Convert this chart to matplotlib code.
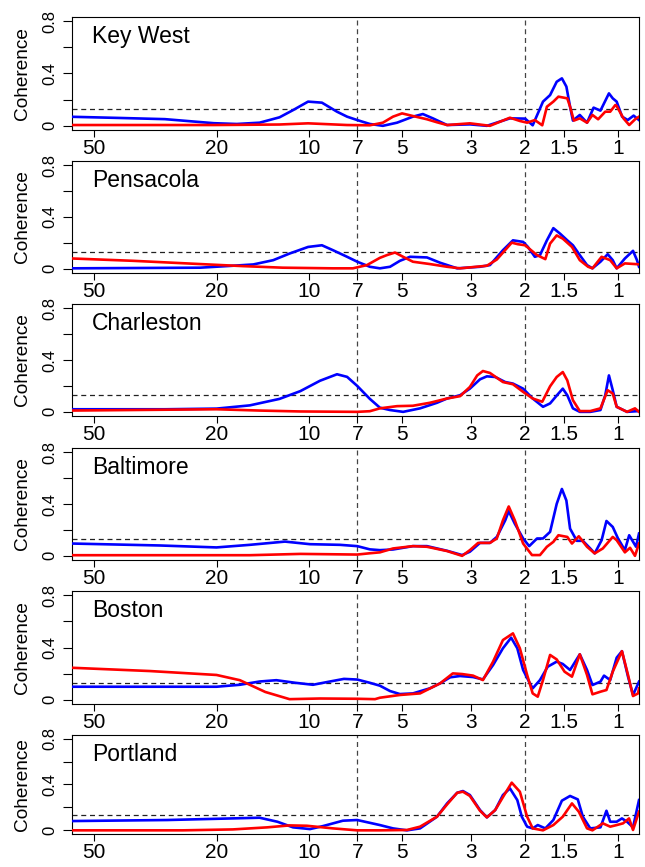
"""
Coherence vs period, six tide-gauge stations.
"""

import matplotlib
matplotlib.use('Agg')
import matplotlib.pyplot as plt

stations = ['Key West', 'Pensacola', 'Charleston', 'Baltimore', 'Boston', 'Portland']

# period (years) / coherence
kw_blue_p = [58.8, 41.1, 29.4, 20.4, 17.2, 14.5, 12.5, 11.3, 10.1, 9.11,
             8.14, 7.55, 7.0, 6.37, 5.78, 5.2, 4.62, 4.29, 3.98, 3.58,
             3.02, 2.66, 2.24, 2.0, 1.89, 1.75, 1.66, 1.58, 1.52, 1.47,
             1.43, 1.40, 1.33, 1.26, 1.20, 1.14, 1.07, 1.04, 1.01, 0.97,
             0.93, 0.89, 0.855]
kw_blue_c = [0.069, 0.06, 0.051, 0.02, 0.014, 0.024, 0.065, 0.12, 0.185, 0.177,
             0.108, 0.07, 0.044, 0.014, 0.0, 0.024, 0.07, 0.09, 0.057, 0.006,
             0.011, 0.0, 0.057, 0.055, 0.004, 0.185, 0.235, 0.337, 0.363, 0.30,
             0.146, 0.04, 0.083, 0.024, 0.139, 0.116, 0.248, 0.21, 0.185, 0.07,
             0.044, 0.078, 0.044]
kw_red_p = [58.8, 20.4, 12.5, 10.1, 7.55, 6.37, 5.78, 5.36, 5.01, 4.62,
            4.16, 3.86, 3.58, 3.02, 2.60, 2.24, 2.08, 1.97, 1.86, 1.76,
            1.70, 1.62, 1.56, 1.46, 1.43, 1.39, 1.33, 1.26, 1.21, 1.16,
            1.10, 1.06, 1.02, 1.01, 0.96, 0.92, 0.88, 0.855]
kw_red_c = [0.006, 0.006, 0.01, 0.019, 0.006, 0.004, 0.024, 0.07, 0.095, 0.075,
            0.05, 0.027, 0.006, 0.019, 0.0, 0.062, 0.037, 0.024, 0.044, 0.004,
            0.146, 0.185, 0.223, 0.21, 0.146, 0.04, 0.057, 0.024, 0.083, 0.05,
            0.108, 0.108, 0.159, 0.151, 0.057, 0.006, 0.05, 0.07]

pe_blue_p = [58.8, 22.6, 17.7, 15.2, 13.1, 11.6, 10.1, 9.11, 8.39, 7.55,
             7.0, 6.37, 5.91, 5.48, 5.09, 4.72, 4.16, 3.77, 3.32, 2.80,
             2.60, 2.36, 2.19, 2.03, 1.96, 1.86, 1.79, 1.70, 1.62, 1.54,
             1.46, 1.40, 1.33, 1.26, 1.21, 1.14, 1.08, 1.04, 1.01, 0.95,
             0.894, 0.868, 0.855]
pe_blue_c = [0.004, 0.009, 0.024, 0.034, 0.067, 0.118, 0.169, 0.182, 0.144, 0.093,
             0.055, 0.016, 0.004, 0.016, 0.062, 0.093, 0.088, 0.047, 0.004, 0.016,
             0.029, 0.144, 0.22, 0.208, 0.17, 0.093, 0.106, 0.22, 0.314, 0.271,
             0.22, 0.182, 0.106, 0.029, 0.004, 0.055, 0.113, 0.067, 0.004, 0.08,
             0.139, 0.067, 0.016]
pe_red_p = [58.8, 37.3, 22.6, 16.4, 12.2, 8.39, 7.23, 6.51, 5.91, 5.61,
            5.28, 4.97, 4.62, 4.07, 3.58, 3.25, 2.66, 2.47, 2.21, 2.11,
            2.0, 1.83, 1.72, 1.66, 1.58, 1.51, 1.41, 1.33, 1.25, 1.21,
            1.13, 1.06, 1.01, 0.95, 0.855]
pe_red_c = [0.08, 0.062, 0.037, 0.021, 0.009, 0.004, 0.004, 0.029, 0.085, 0.106,
            0.126, 0.093, 0.055, 0.037, 0.016, 0.004, 0.024, 0.072, 0.202, 0.19,
            0.182, 0.106, 0.075, 0.195, 0.258, 0.233, 0.169, 0.067, 0.016, 0.004,
            0.093, 0.067, 0.004, 0.042, 0.035]

ch_blue_p = [58.8, 29.4, 20.0, 15.6, 12.5, 10.7, 9.24, 8.14, 7.55, 7.0,
             6.37, 5.91, 5.48, 4.97, 4.38, 3.86, 3.58, 3.25, 3.02, 2.80,
             2.66, 2.50, 2.32, 2.19, 2.03, 1.89, 1.75, 1.66, 1.56, 1.51,
             1.46, 1.40, 1.33, 1.23, 1.14, 1.10, 1.07, 1.04, 1.01, 0.935,
             0.855]
ch_blue_c = [0.02, 0.02, 0.025, 0.05, 0.1, 0.16, 0.24, 0.29, 0.27, 0.2,
             0.1, 0.032, 0.014, 0.0, 0.027, 0.07, 0.103, 0.128, 0.179, 0.251,
             0.274, 0.269, 0.23, 0.218, 0.179, 0.103, 0.039, 0.065, 0.141, 0.179,
             0.128, 0.027, 0.0, 0.0, 0.014, 0.128, 0.281, 0.167, 0.039, 0.0,
             0.006]
ch_red_p = [58.8, 20.0, 14.5, 10.7, 7.0, 6.37, 5.91, 5.20, 4.62, 4.07,
            3.58, 3.25, 3.02, 2.86, 2.74, 2.60, 2.36, 2.19, 2.03, 1.89,
            1.76, 1.66, 1.58, 1.51, 1.46, 1.40, 1.33, 1.23, 1.14, 1.08,
            1.04, 1.01, 0.935, 0.881, 0.855]
ch_red_c = [0.01, 0.02, 0.01, 0.003, 0.0, 0.005, 0.027, 0.044, 0.047, 0.07,
            0.103, 0.121, 0.192, 0.281, 0.315, 0.3, 0.23, 0.213, 0.154, 0.103,
            0.078, 0.197, 0.269, 0.307, 0.243, 0.09, 0.006, 0.006, 0.027, 0.167,
            0.141, 0.039, 0.0, 0.027, 0.0]

ba_blue_p = [58.8, 30.5, 20.0, 15.6, 12.0, 9.96, 7.96, 7.0, 6.37, 5.91,
             5.36, 4.62, 4.16, 3.58, 3.20, 3.02, 2.80, 2.60, 2.47, 2.32,
             2.26, 2.16, 2.03, 1.94, 1.83, 1.75, 1.66, 1.58, 1.52, 1.47,
             1.43, 1.36, 1.30, 1.23, 1.19, 1.13, 1.09, 1.04, 1.0, 0.95,
             0.92, 0.874, 0.855]
ba_blue_c = [0.095, 0.08, 0.065, 0.085, 0.11, 0.09, 0.085, 0.075, 0.05, 0.044,
             0.049, 0.075, 0.075, 0.039, 0.006, 0.032, 0.1, 0.1, 0.146, 0.274,
             0.345, 0.248, 0.134, 0.075, 0.134, 0.134, 0.185, 0.401, 0.516, 0.427,
             0.21, 0.116, 0.116, 0.057, 0.019, 0.121, 0.269, 0.223, 0.134, 0.044,
             0.159, 0.07, 0.172]
ba_red_p = [58.8, 15.6, 10.7, 7.0, 6.37, 5.91, 5.36, 4.62, 4.16, 3.58,
            3.20, 3.02, 2.84, 2.60, 2.47, 2.36, 2.26, 2.16, 2.03, 1.90,
            1.79, 1.70, 1.62, 1.56, 1.46, 1.41, 1.34, 1.26, 1.19, 1.12,
            1.04, 1.01, 0.95, 0.914, 0.881, 0.855]
ba_red_c = [0.005, 0.005, 0.015, 0.01, 0.02, 0.027, 0.057, 0.075, 0.07, 0.037,
            0.0, 0.044, 0.1, 0.1, 0.134, 0.274, 0.381, 0.274, 0.095, 0.006,
            0.006, 0.07, 0.108, 0.159, 0.146, 0.095, 0.151, 0.07, 0.019, 0.057,
            0.146, 0.121, 0.027, 0.062, 0.0, 0.095]

bo_blue_p = [58.8, 20.0, 16.8, 14.5, 12.8, 11.1, 9.74, 8.58, 7.73, 7.0,
             6.37, 5.91, 5.48, 5.09, 4.62, 4.07, 3.77, 3.50, 3.25, 2.95,
             2.74, 2.54, 2.36, 2.22, 2.12, 2.03, 1.93, 1.89, 1.79, 1.69,
             1.58, 1.51, 1.43, 1.33, 1.26, 1.21, 1.14, 1.11, 1.06, 1.01,
             0.971, 0.928, 0.894, 0.855]
bo_blue_c = [0.1, 0.1, 0.115, 0.14, 0.15, 0.13, 0.115, 0.14, 0.16, 0.155,
             0.13, 0.108, 0.067, 0.044, 0.049, 0.088, 0.126, 0.172, 0.182, 0.174,
             0.156, 0.266, 0.394, 0.475, 0.394, 0.228, 0.126, 0.088, 0.151, 0.253,
             0.292, 0.274, 0.228, 0.348, 0.228, 0.113, 0.139, 0.185, 0.151, 0.322,
             0.372, 0.177, 0.037, 0.139]
bo_red_p = [58.8, 32.9, 20.0, 16.8, 13.9, 11.6, 9.24, 7.0, 6.13, 5.91,
            5.09, 4.38, 3.77, 3.43, 3.20, 2.95, 2.74, 2.54, 2.36, 2.19,
            2.08, 1.97, 1.89, 1.82, 1.75, 1.66, 1.58, 1.49, 1.41, 1.33,
            1.26, 1.21, 1.14, 1.09, 1.04, 0.971, 0.928, 0.894, 0.861, 0.855]
bo_red_c = [0.245, 0.22, 0.19, 0.15, 0.06, 0.005, 0.01, 0.008, 0.005, 0.016,
            0.037, 0.049, 0.126, 0.202, 0.197, 0.185, 0.151, 0.292, 0.457, 0.508,
            0.394, 0.19, 0.049, 0.024, 0.151, 0.343, 0.309, 0.215, 0.177, 0.348,
            0.19, 0.042, 0.062, 0.075, 0.215, 0.372, 0.19, 0.029, 0.049, 0.088]

po_blue_p = [58.8, 28.9, 14.5, 12.7, 11.3, 9.96, 9.04, 7.79, 7.0, 5.91,
             5.36, 4.83, 4.38, 3.86, 3.58, 3.32, 3.18, 3.02, 2.80, 2.66,
             2.50, 2.36, 2.24, 2.12, 2.05, 1.97, 1.89, 1.82, 1.72, 1.62,
             1.52, 1.43, 1.35, 1.30, 1.23, 1.14, 1.09, 1.06, 1.01, 0.971,
             0.935, 0.894, 0.855]
po_blue_c = [0.081, 0.09, 0.11, 0.075, 0.026, 0.011, 0.037, 0.084, 0.09, 0.046,
             0.017, 0.0, 0.017, 0.119, 0.235, 0.328, 0.343, 0.308, 0.177, 0.113,
             0.177, 0.308, 0.366, 0.264, 0.119, 0.032, 0.017, 0.046, 0.017, 0.09,
             0.259, 0.3, 0.27, 0.119, 0.017, 0.026, 0.171, 0.075, 0.075, 0.104,
             0.075, 0.026, 0.264]
po_red_p = [58.8, 25.7, 17.7, 13.7, 11.6, 10.2, 8.39, 7.0, 5.91, 4.83,
            4.38, 3.86, 3.58, 3.32, 3.18, 3.02, 2.80, 2.66, 2.50, 2.32,
            2.21, 2.08, 1.97, 1.89, 1.75, 1.62, 1.51, 1.41, 1.34, 1.26,
            1.21, 1.12, 1.06, 1.01, 0.963, 0.921, 0.894, 0.855]
po_red_c = [0.0, 0.0, 0.008, 0.026, 0.043, 0.04, 0.017, 0.0, 0.0, 0.003,
            0.032, 0.119, 0.226, 0.328, 0.337, 0.3, 0.171, 0.113, 0.177, 0.323,
            0.416, 0.337, 0.119, 0.017, 0.0, 0.046, 0.119, 0.235, 0.163, 0.017,
            0.0, 0.061, 0.032, 0.046, 0.061, 0.104, 0.003, 0.163]

period_ticks = [50, 20, 10, 7, 5, 3, 2, 1.5, 1]
period_labels = ['50', '20', '10', '7', '5', '3', '2', '1.5', '1']
coh_ticks = [0, 0.2, 0.4, 0.6, 0.8]
coh_labels = ['0', '', '0.4', '', '0.8']
signif_level = 0.132
marked_periods = [7, 2]


def run():

    plt.rcParams['font.family'] = ['Liberation Sans', 'DejaVu Sans']

    W, H = 645.0, 867.0
    fig = plt.figure(figsize=(W / 100, H / 100), dpi=100)

    # panel boxes in pixels (the last one is shorter in the original)
    left, right = 72, 639
    tops = [17, 161, 304, 448, 591, 735]
    bottoms = [130, 273, 416, 560, 704, 834]

    data = [(kw_blue_p, kw_blue_c, kw_red_p, kw_red_c),
            (pe_blue_p, pe_blue_c, pe_red_p, pe_red_c),
            (ch_blue_p, ch_blue_c, ch_red_p, ch_red_c),
            (ba_blue_p, ba_blue_c, ba_red_p, ba_red_c),
            (bo_blue_p, bo_blue_c, bo_red_p, bo_red_c),
            (po_blue_p, po_blue_c, po_red_p, po_red_c)]

    for i, name in enumerate(stations):
        top, bot = tops[i], bottoms[i]
        ax = fig.add_axes([left / W, 1 - bot / H, (right - left) / W, (bot - top) / H])

        bp, bc, rp, rc = data[i]
        ax.plot(bp, bc, color='blue', lw=1.9, solid_joinstyle='round', zorder=3)
        ax.plot(rp, rc, color='red', lw=1.9, solid_joinstyle='round', zorder=4)

        for p in marked_periods:
            ax.axvline(p, color='#444444', lw=0.9, dashes=(4, 3), zorder=2)
        ax.axhline(signif_level, color='#222222', lw=0.9, dashes=(4, 3), zorder=2)

        ax.set_xscale('log')
        ax.set_xlim(58.8, 0.855)
        ax.set_ylim(-0.032, 0.832)
        ax.minorticks_off()
        ax.set_xticks(period_ticks)
        ax.set_xticklabels(period_labels, fontsize=15)
        ax.set_yticks(coh_ticks)
        ax.set_yticklabels(coh_labels, fontsize=12, rotation=90, va='center')
        ax.tick_params(axis='x', length=5, width=0.8, pad=1.5)
        ax.tick_params(axis='y', length=6.5, width=0.8, pad=4)
        for s in ax.spines.values():
            s.set_linewidth(0.8)

        ax.annotate(name, xy=(0, 1), xycoords='axes fraction',
                    xytext=(14.4, -18.7), textcoords='offset points',
                    fontsize=16.5, ha='left', va='baseline')

        fig.text(23 / W, 1 - (top + bot) / 2 / H, 'Coherence', fontsize=13.7,
                 rotation=90, ha='center', va='center')

    fig.savefig('out.png', dpi=100)


if __name__ == '__main__':
    run()
